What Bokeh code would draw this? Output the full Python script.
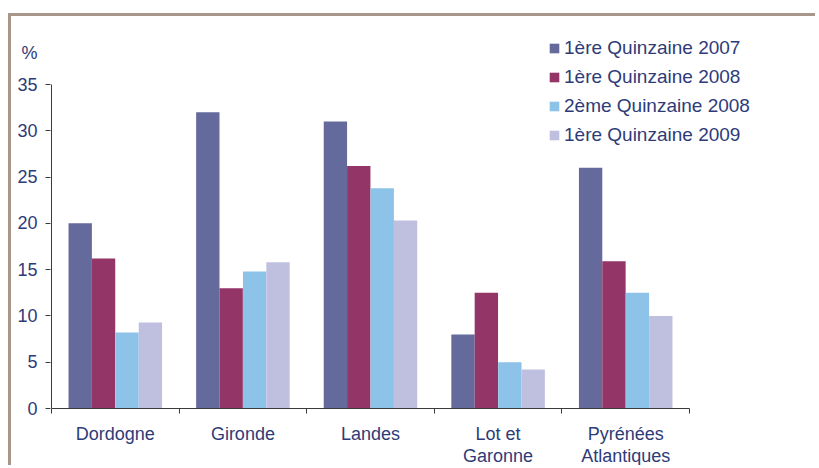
from bokeh.plotting import figure
from bokeh.models import (ColumnDataSource, Range1d, FixedTicker, Legend, LegendItem)
from bokeh.transform import dodge
from bokeh.embed import file_html
from bokeh.resources import INLINE

categories = ["Dordogne", "Gironde", "Landes", "Lot et Garonne", "Pyrénées Atlantiques"]
x_labels = ["Dordogne", "Gironde", "Landes", "Lot et\nGaronne", "Pyrénées\nAtlantiques"]
series_names = ["1ère Quinzaine 2007", "1ère Quinzaine 2008",
                "2ème Quinzaine 2008", "1ère Quinzaine 2009"]
q1_2007 = [20, 32, 31, 8, 26]
q1_2008 = [16.2, 13, 26.2, 12.5, 15.9]
q2_2008 = [8.2, 14.8, 23.8, 5, 12.5]
q1_2009 = [9.3, 15.8, 20.3, 4.2, 10]
y_ticks = [0, 5, 10, 15, 20, 25, 30, 35]
unit_label = "%"

colors = ["#646a9b", "#933566", "#8dc3e8", "#bfc0df"]
TEXT = "#2e3b78"
FONT = "Liberation Sans"
AXIS = "#3a3a3a"

# layout (pixels)
W, H = 807, 452
ML, MR, MT, MB = 39, 4, 14, 60
plot_w = 638.0      # pixels spanned by the 5 categories
axis_h = 324.0      # pixels spanned by 0..35
frame_w = W - ML - MR
frame_h = H - MT - MB
px_x = plot_w / len(categories)
y_top = y_ticks[-1] * frame_h / axis_h
x_start = -1.0 / px_x
x_end = x_start + frame_w / px_x
pct_y = y_ticks[-1] + 32.0 * y_ticks[-1] / axis_h

centers = [i + 0.5 for i in range(len(categories))]
bounds = [float(i) for i in range(len(categories) + 1)]

src = ColumnDataSource(dict(cat=categories, xc=centers,
                            s0=q1_2007, s1=q1_2008, s2=q2_2008, s3=q1_2009))

p = figure(x_range=Range1d(x_start, x_end), y_range=Range1d(0, y_top),
           width=W, height=H,
           output_backend="svg", toolbar_location=None,
           min_border_left=ML, min_border_right=MR, min_border_top=MT, min_border_bottom=MB,
           margin=(13, 0, 0, 8),
           styles={"border-top": "3px solid #a8968b", "border-left": "3px solid #a8968b"})
p.outline_line_color = None
p.xgrid.visible = False
p.ygrid.visible = False

offsets = [-0.275, -0.092, 0.092, 0.275]
width = 0.183
items = []
for i, key in enumerate(["s0", "s1", "s2", "s3"]):
    r = p.vbar(x=dodge("xc", offsets[i]), top=key, width=width,
               source=src, color=colors[i], line_color=None)
    items.append(LegendItem(label=series_names[i], renderers=[r]))

# y axis line (0..35 only)
p.segment(x0=[0], y0=[y_ticks[0]], x1=[0], y1=[y_ticks[-1]], line_color=AXIS, line_width=1)

# y axis: numbers + unit label as major labels, tick marks as minor ticks
ya = p.yaxis[0]
ya.ticker = FixedTicker(ticks=y_ticks + [pct_y], minor_ticks=y_ticks)
ya.major_label_overrides = {pct_y: unit_label}
ya.axis_line_color = None
ya.major_tick_line_color = None
ya.major_tick_in = 0
ya.major_tick_out = 5
ya.minor_tick_line_color = AXIS
ya.minor_tick_in = 0
ya.minor_tick_out = 5
ya.major_label_standoff = 8
ya.major_label_text_font = FONT
ya.major_label_text_font_size = "18px"
ya.major_label_text_color = TEXT

# x axis: boundary ticks (minor) + centered labels (major)
xa = p.xaxis[0]
xa.bounds = (0, len(categories))
xa.ticker = FixedTicker(ticks=centers, minor_ticks=bounds)
xa.major_label_overrides = {c: lab for c, lab in zip(centers, x_labels)}
xa.axis_line_color = AXIS
xa.major_tick_line_color = None
xa.major_tick_in = 0
xa.major_tick_out = 5
xa.minor_tick_line_color = AXIS
xa.minor_tick_in = 0
xa.minor_tick_out = 5
xa.major_label_standoff = 10
xa.major_label_text_font = FONT
xa.major_label_text_font_size = "18px"
xa.major_label_text_color = TEXT
xa.major_label_text_line_height = 1.1

legend = Legend(items=items, location=(498, 262), orientation="vertical",
                glyph_width=12, glyph_height=12, label_height=22, spacing=7,
                label_standoff=4, padding=0, margin=0,
                label_text_font=FONT, label_text_font_size="19px",
                label_text_color=TEXT, border_line_color=None,
                background_fill_alpha=0)
p.add_layout(legend, "center")

open("out.html", "w").write(file_html(p, INLINE))
